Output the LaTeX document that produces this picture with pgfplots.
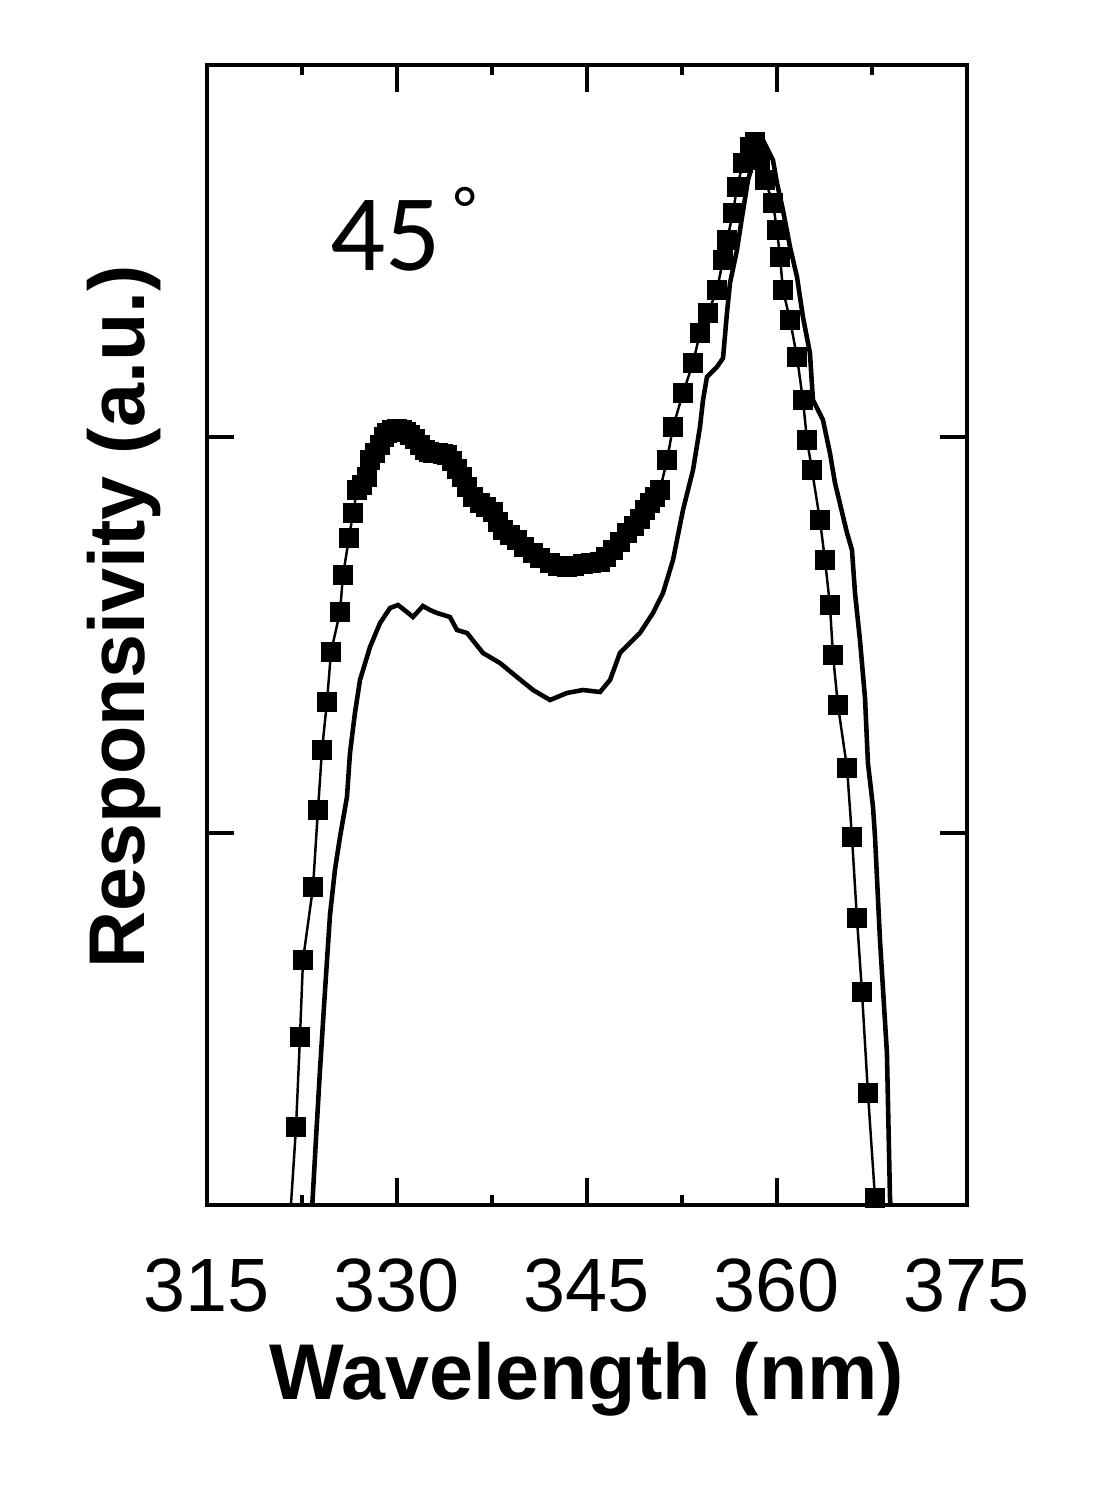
\documentclass[border=0pt]{standalone}
\usepackage{fontspec}
\setmainfont{Liberation Sans}
\newfontfamily\carlito{Carlito}
\usepackage{pgfplots}
\pgfplotsset{compat=1.18}

\begin{document}
\begin{tikzpicture}
\begin{axis}[
    scale only axis,
    width=7.6cm, height=11.4cm,
    xmin=315, xmax=375,
    ymin=0, ymax=11.4,
    xtick={315,330,345,360,375},
    minor xtick={322.5,337.5,352.5,367.5},
    ytick={3.72,7.68},
    yticklabels={},
    tick align=inside,
    major tick length=0.27cm,
    minor tick length=0.1cm,
    every tick/.style={black, line width=0.9pt},
    axis line style={line width=1.1pt},
    /pgf/number format/assume math mode=true,
    xticklabel style={font=\fontsize{21.5}{24}\selectfont, inner sep=0pt, yshift=-0.53cm},
    xlabel={Wavelength (nm)},
    xlabel style={font=\fontsize{22.5}{26}\selectfont\bfseries,
        at={(axis description cs:0.5,-0.153)}, anchor=center},
    ylabel={Responsivity (a.u.)},
    ylabel style={font=\fontsize{22.5}{26}\selectfont\bfseries,
        at={(axis description cs:-0.109,0.516)}, anchor=center},
]

% measured, square marks
\addplot[black, line width=0.7pt, mark=square*, mark size=2.5pt,
    mark options={solid}]
coordinates {
(321.55,-0.15)(322.03,0.78)(322.34,1.68)(322.58,2.45)(323.37,3.18)(323.76,3.95)
(324.08,4.55)(324.47,5.03)(324.79,5.53)(325.50,5.93)(325.74,6.30)(326.21,6.67)
(326.53,6.92)(326.84,7.15)(327.20,7.20)(327.63,7.28)(327.87,7.45)(328.25,7.52)
(328.66,7.60)(328.95,7.68)(329.21,7.72)(329.60,7.75)(330.00,7.76)(330.40,7.75)
(330.70,7.73)(331.03,7.70)(331.40,7.66)(331.82,7.60)(332.20,7.55)(332.50,7.53)
(332.84,7.52)(333.20,7.52)(333.60,7.51)(333.95,7.50)(334.35,7.44)(334.74,7.36)
(335.10,7.28)(335.53,7.18)(336.00,7.08)(336.55,7.02)(337.00,6.98)(337.58,6.93)
(338.00,6.83)(338.37,6.75)(338.90,6.70)(339.47,6.65)(340.00,6.58)(340.74,6.52)
(341.30,6.47)(342.08,6.42)(342.70,6.39)(343.42,6.38)(344.00,6.39)(344.68,6.41)
(345.30,6.42)(346.03,6.43)(346.50,6.48)(347.05,6.55)(347.60,6.63)(348.16,6.72)
(348.70,6.79)(349.18,6.86)(349.60,6.95)(349.97,7.02)(350.40,7.08)(350.76,7.15)
(351.32,7.45)(351.79,7.78)(352.58,8.12)(353.37,8.42)(353.92,8.72)(354.55,8.92)
(355.26,9.15)(355.74,9.45)(356.05,9.65)(356.53,9.92)(356.84,10.18)(357.32,10.42)
(357.87,10.58)(358.26,10.63)(358.66,10.45)(359.05,10.25)(359.68,10.02)(360.00,9.75)
(360.24,9.48)(360.47,9.15)(361.03,8.85)(361.58,8.48)(362.05,8.05)(362.37,7.65)
(362.76,7.35)(363.39,6.85)(363.79,6.45)(364.18,6.00)(364.42,5.50)(364.81,5.00)
(365.53,4.37)(365.92,3.68)(366.31,2.87)(366.71,2.13)(367.18,1.12)(367.74,0.07)
};

% simulated, solid line
\addplot[black, line width=1.3pt, no marks]
coordinates {
(323.29,-0.05)(323.60,0.65)(323.92,1.35)(324.32,2.15)(324.71,2.90)(325.10,3.35)
(325.50,3.68)(326.05,4.08)(326.29,4.52)(326.68,4.92)(327.08,5.25)(327.87,5.58)
(328.66,5.82)(329.45,5.97)(330.08,6.00)(330.79,5.93)(331.26,5.88)(332.05,5.99)
(332.61,5.95)(333.16,5.92)(334.18,5.88)(334.74,5.75)(335.53,5.72)(336.79,5.52)
(338.13,5.42)(339.47,5.28)(340.74,5.15)(342.08,5.05)(343.42,5.12)(344.68,5.15)
(346.03,5.13)(346.82,5.25)(347.60,5.52)(349.18,5.72)(350.21,5.92)(351.00,6.12)
(351.79,6.45)(352.58,6.95)(353.37,7.35)(353.92,7.78)(354.16,8.05)(354.47,8.28)
(355.26,8.38)(355.74,8.47)(356.05,8.92)(356.29,9.22)(356.84,9.55)(357.24,9.88)
(357.71,10.25)(358.10,10.42)(358.89,10.65)(359.68,10.45)(360.00,10.22)(360.47,9.95)
(361.03,9.58)(361.58,9.28)(362.05,8.88)(362.60,8.52)(362.84,8.05)(363.63,7.85)
(364.18,7.52)(364.58,7.22)(365.53,6.72)(365.92,6.55)(366.16,6.12)(366.55,5.65)
(366.95,5.07)(367.18,4.42)(367.58,3.98)(367.74,3.68)(368.13,2.65)(368.68,1.52)
(368.92,0.08)(369.00,-0.10)
};

\node[anchor=base west, inner sep=0pt, font=\carlito\fontsize{31}{36}\selectfont]
    at (axis cs:324.71,9.35) {45\hspace{0.12em}\raisebox{0.36em}{\fontsize{18}{20}\selectfont °}};
\end{axis}
\path (-2.07,-2.83) rectangle (8.97,12.05);
\end{tikzpicture}
\end{document}
